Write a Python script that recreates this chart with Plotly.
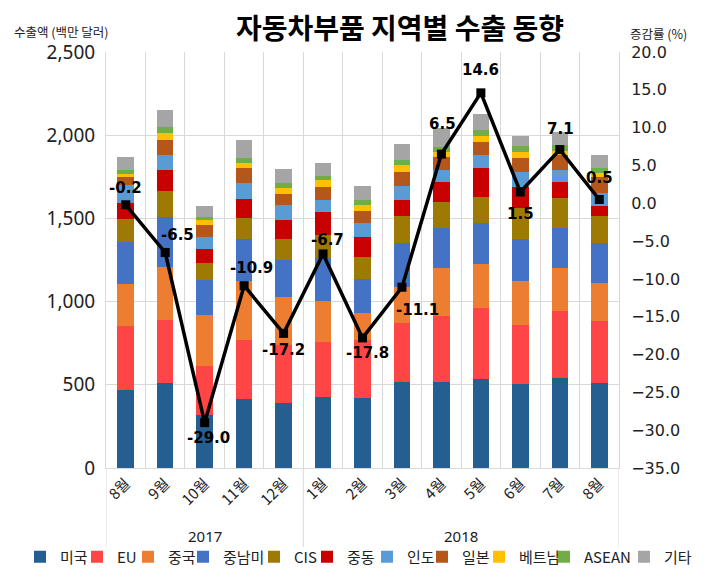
import plotly.graph_objects as go

months = ['8월', '9월', '10월', '11월', '12월', '1월', '2월', '3월', '4월', '5월', '6월', '7월', '8월']
year_labels = ['2017', '2018']
year_sizes = [5, 8]

region_names = ['미국', 'EU', '중국', '중남미', 'CIS', '중동', '인도', '일본', '베트남', 'ASEAN', '기타']

usa = [469, 509, 318, 413, 389, 425, 419, 515, 515, 533, 505, 539, 509]
eu = [384, 380, 295, 356, 350, 330, 350, 354, 398, 427, 354, 404, 376]
china = [251, 321, 304, 355, 289, 248, 164, 216, 291, 266, 265, 257, 229]
latam = [252, 296, 213, 250, 222, 257, 201, 265, 240, 244, 250, 244, 236]
cis = [139, 159, 100, 126, 125, 140, 136, 164, 156, 161, 187, 180, 164]
mideast = [96, 126, 88, 115, 117, 140, 120, 97, 121, 170, 126, 93, 61]
india = [110, 90, 72, 100, 89, 71, 80, 84, 70, 80, 94, 74, 76]
japan = [46, 90, 73, 90, 68, 78, 76, 82, 76, 80, 84, 90, 96]
vietnam = [20, 40, 27, 30, 32, 39, 35, 44, 34, 34, 36, 24, 24]
asean = [24, 36, 20, 30, 32, 25, 30, 30, 30, 36, 34, 36, 30]
others = [76, 104, 65, 106, 84, 80, 84, 96, 110, 94, 60, 80, 80]

growth = [-0.2, -6.5, -29.0, -10.9, -17.2, -6.7, -17.8, -11.1, 6.5, 14.6, 1.5, 7.1, 0.5]

series = [usa, eu, china, latam, cis, mideast, india, japan, vietnam, asean, others]

# ---- styling ----
colors = ['#255E91', '#FF4545', '#ED7D31', '#4472C4', '#9E7A05', '#C80000',
          '#5B9BD5', '#B5561A', '#FFC000', '#70AD47', '#A5A5A5']
# page has an 8px body margin, so figure coords = reference pixels - 8
OFF = 8
legend_symbol_px = [46, 103, 154, 209, 280, 333, 393, 448, 505, 570, 650]
label_shift = [(0, 17), (12, 17), (4, -15), (7, 18), (0, -17), (4, 14), (5, -15),
               (16, -23), (1, 30), (0, 23), (0, -22), (1, 21), (0, 21)]

KR = 'Noto Sans CJK KR'
GRID = '#D9D9D9'
W, H = 717 - 2 * OFF, 581 - 2 * OFF
ML, MT = 106 - OFF, 52 - OFF
MR = W - (619 - OFF)
MB = H - (468 - OFF)
PW = W - ML - MR
PH = H - MT - MB


def py(ref_y):
    return (MT + PH - (ref_y - OFF)) / PH


def px(ref_x):
    return (ref_x - OFF - ML) / PW


x_idx = list(range(len(months)))

fig = go.Figure()
for k, (name, vals, col) in enumerate(zip(region_names, series, colors)):
    lg = 'legend' if k == 0 else f'legend{k + 1}'
    fig.add_trace(go.Bar(x=x_idx, y=vals, name=name, marker=dict(color=col, line=dict(width=0)),
                         legend=lg, yaxis='y'))

fig.add_trace(go.Scatter(x=x_idx, y=growth, mode='lines+markers', name='증감률',
                         line=dict(color='black', width=3.5),
                         marker=dict(symbol='square', size=9, color='black'),
                         yaxis='y2', showlegend=False))

annotations = []
for i, g in enumerate(growth):
    dx, dy = label_shift[i]
    annotations.append(dict(x=i, y=g, xref='x', yref='y2', text=f'<b>{g:.1f}</b>',
                            showarrow=False, xshift=dx, yshift=dy,
                            font=dict(family='DejaVu Sans', size=15, color='black')))

# year labels
start = 0
for lab, n in zip(year_labels, year_sizes):
    annotations.append(dict(x=start + (n - 1) / 2, y=py(536), xref='x', yref='paper',
                            text=lab, showarrow=False, yanchor='middle',
                            font=dict(family='Noto Sans', size=15, color='#222')))
    start += n

annotations.append(dict(x=px(12), y=py(31), xref='paper', yref='paper',
                        xanchor='left', yanchor='middle', text='수출액 (백만 달러)', showarrow=False,
                        font=dict(family=KR, size=12.5, color='#222')))
annotations.append(dict(x=px(658), y=py(33), xref='paper', yref='paper',
                        xanchor='center', yanchor='middle', text='증감률 (%)', showarrow=False,
                        font=dict(family=KR, size=12.5, color='#222')))

shapes = []
bounds = [-0.5]
acc = -0.5
for n in year_sizes:
    acc += n
    bounds.append(acc)
for b in bounds:
    shapes.append(dict(type='line', xref='x', yref='paper', x0=b, x1=b, y0=0,
                       y1=py(547), line=dict(color=GRID, width=1)))

legends = {}
for k, sx in enumerate(legend_symbol_px):
    key = 'legend' if k == 0 else f'legend{k + 1}'
    legends[key] = dict(x=px(sx - 26), xanchor='left', y=py(557), yanchor='middle',
                        orientation='h', bgcolor='rgba(0,0,0,0)',
                        font=dict(family=KR, size=15, color='#222'))

fig.update_layout(
    width=W, height=H,
    margin=dict(l=ML, r=MR, t=MT, b=MB, autoexpand=False),
    paper_bgcolor='white', plot_bgcolor='white',
    barmode='stack', bargap=0.58,
    title=dict(text='<b>자동차부품 지역별 수출 동향</b>', x=(400 - OFF) / W, xanchor='center',
               y=1 - (29 - OFF) / H, yanchor='middle', xref='container', yref='container',
               font=dict(family=KR, size=28, color='black')),
    xaxis=dict(range=[-0.5, 12.5], tickmode='array', tickvals=x_idx, ticktext=months,
               tickangle=-45, tickfont=dict(family=KR, size=15, color='#222'),
               showgrid=False, zeroline=False, showline=True, linecolor=GRID, ticks='',
               minor=dict(tickmode='array', tickvals=[i - 0.5 for i in range(len(months) + 1)],
                          showgrid=True, gridcolor=GRID, gridwidth=1, ticks='')),
    yaxis=dict(range=[0, 2500], tickmode='array', tickvals=[0, 500, 1000, 1500, 2000, 2500],
               tickformat=',d', showgrid=True, gridcolor=GRID, gridwidth=1, zeroline=False,
               showline=True, linecolor=GRID, ticks='outside', ticklen=6,
               tickcolor='rgba(0,0,0,0)', tickfont=dict(family='Noto Sans', size=19, color='#222')),
    yaxis2=dict(range=[-35, 20], overlaying='y', side='right', tickmode='array',
                tickvals=list(range(-35, 21, 5)), tickformat='.1f', showgrid=False,
                zeroline=False, showline=True, linecolor=GRID, ticks='outside', ticklen=8,
                tickcolor='rgba(0,0,0,0)', tickfont=dict(family='DejaVu Sans', size=16, color='#222')),
    annotations=annotations,
    shapes=shapes,
    **legends,
)

fig.write_html('out.html')
